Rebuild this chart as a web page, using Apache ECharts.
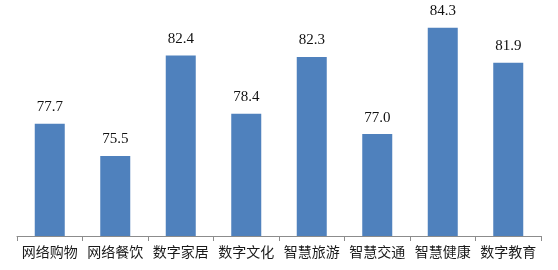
<!DOCTYPE html>
<html>
<head>
<meta charset="utf-8">
<script src="https://cdn.jsdelivr.net/npm/echarts@6/dist/echarts.min.js"></script>
<style>
  html, body { margin: 0; padding: 0; background: #fff; }
  #chart { width: 558px; height: 270px; }
</style>
</head>
<body>
<div id="chart"></div>
<script>
// Index scores by digital-life scenario
const categories = ['网络购物', '网络餐饮', '数字家居', '数字文化', '智慧旅游', '智慧交通', '智慧健康', '数字教育'];
const scores = [77.7, 75.5, 82.4, 78.4, 82.3, 77.0, 84.3, 81.9];

const chart = echarts.init(document.getElementById('chart'));
chart.setOption({
  animation: false,
  backgroundColor: '#ffffff',
  grid: { left: 17, right: 17, top: 3, bottom: 34 },
  xAxis: {
    type: 'category',
    data: categories,
    boundaryGap: true,
    axisLine: { show: true, lineStyle: { color: '#8c8c8c', width: 1 } },
    axisTick: { show: true, inside: false, length: 5, alignWithLabel: false, lineStyle: { color: '#8c8c8c' } },
    axisLabel: {
      color: '#1a1a1a',
      fontSize: 14,
      fontFamily: '"Noto Sans CJK SC", sans-serif',
      margin: 9,
      interval: 0
    }
  },
  yAxis: {
    type: 'value',
    min: 70,
    max: 86,
    show: false,
    splitLine: { show: false }
  },
  series: [{
    type: 'bar',
    data: scores,
    barWidth: 30,
    itemStyle: { color: '#4f81bd' },
    label: {
      show: true,
      position: 'top',
      distance: 9,
      color: '#111',
      fontSize: 15,
      fontFamily: '"Liberation Serif", "Times New Roman", serif',
      formatter: p => p.value.toFixed(1)
    }
  }]
});
</script>
</body>
</html>
